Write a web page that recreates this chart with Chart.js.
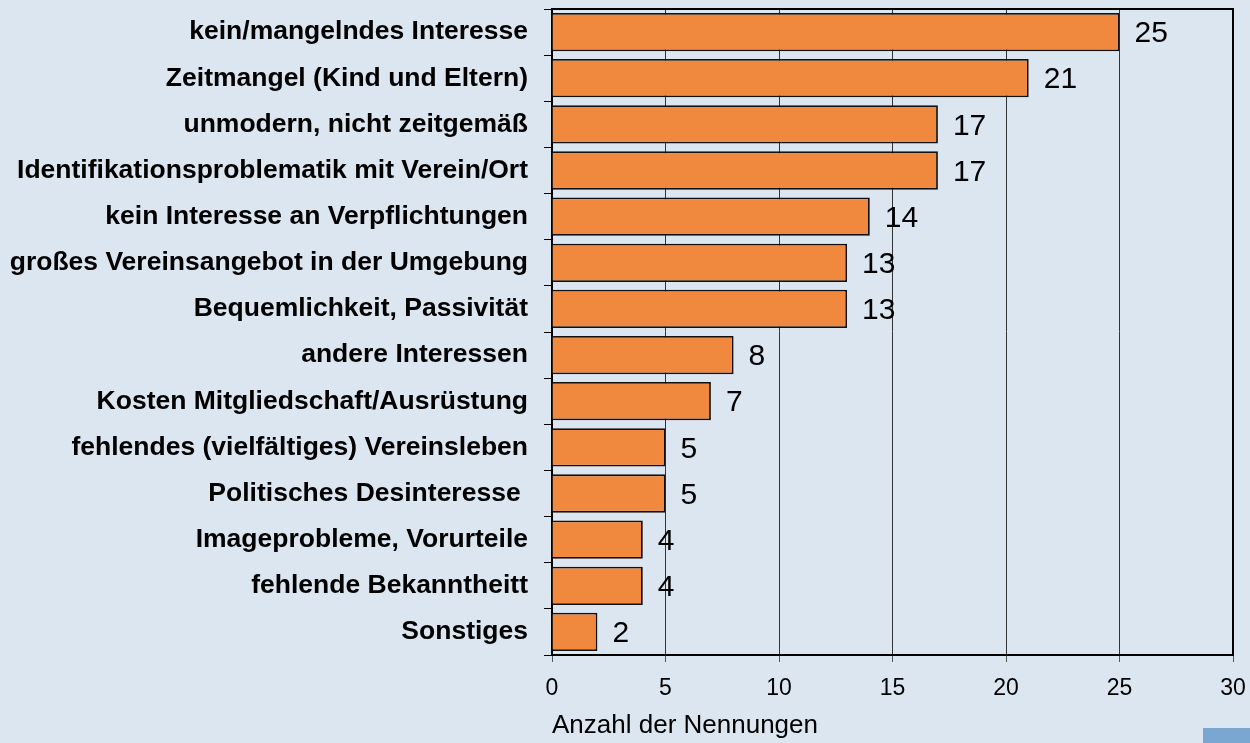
<!DOCTYPE html>
<html>
<head>
<meta charset="utf-8">
<script src="https://cdn.jsdelivr.net/npm/chart.js@4"></script>
<style>
  html, body { margin: 0; padding: 0; background: #dce6f1; }
  #wrap { position: relative; width: 1250px; height: 743px; }
  #corner { position: absolute; left: 1203px; top: 728px; width: 47px; height: 15px; background: #7aa6d2; }
</style>
</head>
<body>
<div id="wrap">
  <canvas id="chart" width="1250" height="743"></canvas>
  <div id="corner"></div>
</div>
<script>
const categories = [
    "kein/mangelndes Interesse",
    "Zeitmangel (Kind und Eltern)",
    "unmodern, nicht zeitgemäß",
    "Identifikationsproblematik mit Verein/Ort",
    "kein Interesse an Verpflichtungen",
    "großes Vereinsangebot in der Umgebung",
    "Bequemlichkeit, Passivität",
    "andere Interessen",
    "Kosten Mitgliedschaft/Ausrüstung",
    "fehlendes (vielfältiges) Vereinsleben",
    "Politisches Desinteresse ",
    "Imageprobleme, Vorurteile",
    "fehlende Bekanntheitt",
    "Sonstiges"
];
const counts = [25, 21, 17, 17, 14, 13, 13, 8, 7, 5, 5, 4, 4, 2];
const xTicks = [0, 5, 10, 15, 20, 25, 30];

const FONT = "Arial, 'Liberation Sans', Helvetica, sans-serif";

const frame = {
    id: "frame",
    afterDraw(chart) {
        const { ctx, chartArea: a } = chart;
        ctx.save();
        ctx.strokeStyle = "#000";
        ctx.lineWidth = 2;
        ctx.beginPath();
        ctx.moveTo(a.left, a.top);
        ctx.lineTo(a.right, a.top);
        ctx.lineTo(a.right, a.bottom);
        ctx.stroke();
        ctx.restore();
    }
};

const valueLabels = {
    id: "valueLabels",
    afterDatasetsDraw(chart) {
        const ctx = chart.ctx;
        const meta = chart.getDatasetMeta(0);
        ctx.save();
        ctx.font = "30px " + FONT;
        ctx.fillStyle = "#000";
        ctx.textBaseline = "middle";
        ctx.textAlign = "left";
        meta.data.forEach((bar, i) => {
            ctx.fillText(String(counts[i]), bar.x + 15, bar.y + 2);
        });
        ctx.restore();
    }
};

new Chart(document.getElementById("chart"), {
    type: "bar",
    data: {
        labels: categories,
        datasets: [{
            data: counts,
            backgroundColor: "#f0883e",
            borderColor: "#111",
            borderWidth: 1.8,
            categoryPercentage: 1,
            barPercentage: 0.83
        }]
    },
    options: {
        indexAxis: "y",
        responsive: false,
        animation: false,
        layout: { padding: { left: 0, right: 17, top: 9, bottom: 0 } },
        plugins: {
            legend: { display: false },
            tooltip: { enabled: false }
        },
        scales: {
            x: {
                min: 0,
                max: 30,
                afterBuildTicks(scale) {
                    scale.ticks = xTicks.map(v => ({ value: v }));
                },
                afterFit(scale) {
                    scale.height = 88;
                    scale.paddingLeft = 0;
                    scale.paddingRight = 0;
                },
                grid: { color: "#333", lineWidth: 1, tickLength: 7, tickColor: "#555" },
                border: { color: "#000", width: 2 },
                ticks: {
                    color: "#000",
                    padding: 13,
                    font: { family: FONT, size: 23 }
                },
                title: {
                    display: true,
                    text: "Anzahl der Nennungen",
                    align: "start",
                    color: "#000",
                    padding: { top: 0, bottom: 2 },
                    font: { family: FONT, size: 26 }
                }
            },
            y: {
                afterFit(scale) {
                    scale.width = 552;
                    scale.paddingTop = 0;
                    scale.paddingBottom = 0;
                },
                grid: { drawOnChartArea: false, tickLength: 8, tickColor: "#000", offset: true },
                border: { color: "#000", width: 2 },
                ticks: {
                    color: "#000",
                    padding: 16,
                    autoSkip: false,
                    font: { family: FONT, size: 26.5, weight: "bold" }
                }
            }
        }
    },
    plugins: [frame, valueLabels]
});
</script>
</body>
</html>
